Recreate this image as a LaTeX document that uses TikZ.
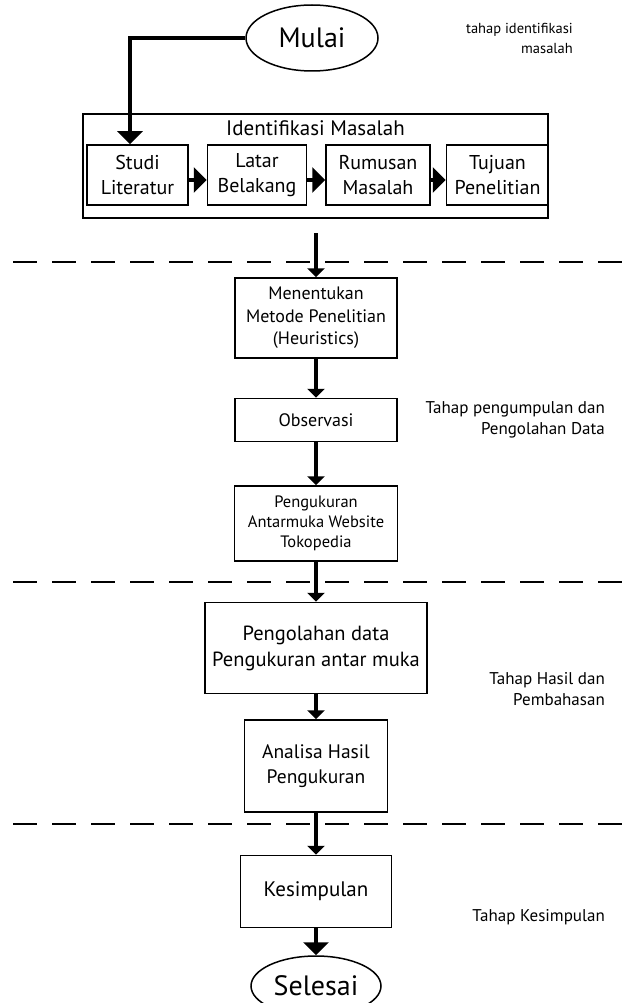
\documentclass[tikz,border=0pt]{standalone}
\usepackage{fontspec}
\setmainfont{PT Sans}
\usetikzlibrary{arrows.meta,positioning,shapes.geometric}

\begin{document}
\begin{tikzpicture}[x=1pt, y=-1pt, node distance=18pt and 18pt,
      stage/.style={draw, rectangle, line width=1.5pt, inner sep=0pt, align=center},
      term/.style={draw, ellipse, line width=1.5pt, inner sep=0pt, font=\fontsize{28}{30}\selectfont},
      note/.style={anchor=east, align=right, inner sep=0pt, font=\fontsize{17}{21}\selectfont},
      flow/.style={line width=3.5pt, -{Triangle[length=9pt, width=17pt]}},
      bigflow/.style={line width=3.5pt, -{Triangle[length=13pt, width=25pt]}},
      phase/.style={line width=2pt, dash pattern=on 24pt off 15pt}]
    \useasboundingbox (0,0) rectangle (625,1003);
    % tahap identifikasi masalah
    \node[term, minimum width=132pt, minimum height=66pt] (mulai) at (312,38) {Mulai};
    \node[stage, minimum width=465pt, minimum height=104pt] (ident) at (315.5,166) {};
    \node[below=4pt of ident.north, font=\fontsize{21}{24}\selectfont] (identlbl) {Identifikasi Masalah};
    \node[stage, minimum width=101pt, minimum height=60pt, font=\fontsize{20}{25}\selectfont] (studi) at (137.5,175) {Studi\\Literatur};
    \node[stage, minimum width=99pt, minimum height=60pt, font=\fontsize{20}{25}\selectfont, right=of studi] (latar) {Latar\\Belakang};
    \node[stage, minimum width=104pt, minimum height=60pt, font=\fontsize{20}{25}\selectfont, right=of latar] (rumus) {Rumusan\\Masalah};
    \node[stage, minimum width=102pt, minimum height=60pt, font=\fontsize{20}{25}\selectfont, right=15pt of rumus] (tujuan) {Tujuan\\Penelitian};
    \coordinate (keluar) at (316,233);
    % tahap pengumpulan dan pengolahan data
    \node[stage, minimum width=162pt, minimum height=80pt, font=\fontsize{18}{22.5}\selectfont] (metode) at (316,318) {Menentukan\\Metode Penelitian\\(Heuristics)};
    \node[stage, minimum width=162pt, minimum height=43pt, font=\fontsize{18}{22.5}\selectfont, below=39pt of metode] (obs) {Observasi};
    \node[stage, minimum width=163pt, minimum height=75pt, font=\fontsize{16.5}{20}\selectfont, below=43pt of obs] (ukur) {Pengukuran\\Antarmuka Website\\Tokopedia};
    % tahap hasil dan pembahasan
    \node[stage, minimum width=222pt, minimum height=91pt, font=\fontsize{20.5}{26}\selectfont, below=40pt of ukur] (olah) {Pengolahan data\\Pengukuran antar muka};
    \node[stage, minimum width=143pt, minimum height=92pt, font=\fontsize{19.5}{24.5}\selectfont, below=25pt of olah] (analisa) {Analisa Hasil\\Pengukuran};
    % tahap kesimpulan
    \node[stage, minimum width=151pt, minimum height=72pt, font=\fontsize{21}{24}\selectfont, below=42pt of analisa] (simpul) {Kesimpulan};
    \node[term, minimum width=130pt, minimum height=60pt, below=27pt of simpul] (selesai) {Selesai};
    % keterangan tahap
    \node[note, font=\fontsize{14.5}{20}\selectfont] (ntahap1) at (573,38) {tahap identifikasi\\masalah};
    \node[note] (ntahap2) at (605,420) {Tahap pengumpulan dan\\Pengolahan Data};
    \node[note] (ntahap3) at (605,689) {Tahap Hasil dan\\Pembahasan};
    \node[note] (ntahap4) at (605,917) {Tahap Kesimpulan};
    \foreach \y in {262,582,824} \draw[phase] (13,\y) -- (625,\y);
    \draw[bigflow] (mulai.west) -| ([xshift=-7.5pt]studi.north);
    \draw[bigflow] ([yshift=-5pt]studi.east) -- ([yshift=-5pt]latar.west);
    \draw[bigflow] ([yshift=-5pt]latar.east) -- ([yshift=-5pt]rumus.west);
    \draw[bigflow] ([yshift=-5pt]rumus.east) -- ([yshift=-5pt]tujuan.west);
    \draw[flow] (keluar) -- (metode); \draw[flow] (metode) -- (obs); \draw[flow] (obs) -- (ukur);
    \draw[flow] (ukur) -- (olah); \draw[flow] (olah) -- (analisa); \draw[flow] (analisa) -- (simpul);
    \draw[bigflow] (simpul) -- (selesai);
  \end{tikzpicture}
\end{document}
